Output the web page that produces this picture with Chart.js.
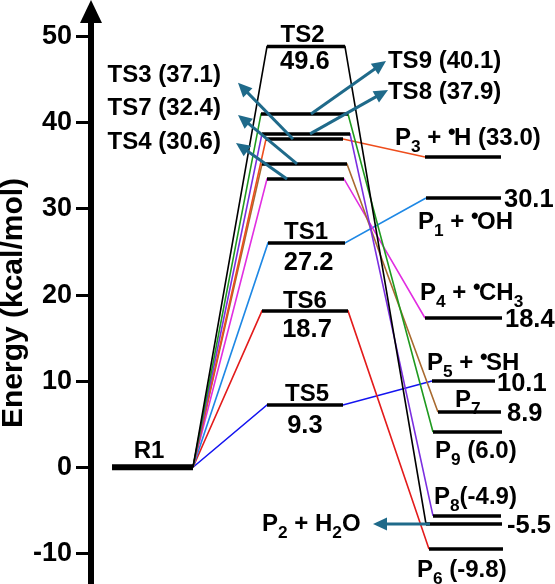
<!DOCTYPE html>
<html><head><meta charset="utf-8">
<script src="https://cdn.jsdelivr.net/npm/chart.js@4.4.1/dist/chart.umd.min.js"></script>
<style>html,body{margin:0;padding:0;background:#fff;}#wrap{width:555px;height:584px;}</style>
</head><body><div id="wrap"><canvas id="c" width="555" height="584"></canvas></div>
<script>
// ---------- data ----------
const yTicks = [-10, 0, 10, 20, 30, 40, 50];
const r1Name = 'R1';
const r1Energy = 0;
// transition states (drawn level, printed label value)
const tsNames       = ['TS2', 'TS9', 'TS8', 'TS3', 'TS7', 'TS4', 'TS1', 'TS6', 'TS5'];
const tsLabelValues = ['49.6', '40.1', '37.9', '37.1', '32.4', '30.6', '27.2', '18.7', '9.3'];
const tsLevels      = [48.86, 41.04, 38.72, 38.13, 35.23, 33.49, 26.06, 18.16, 7.24];
// products reached from each TS (same order)
const productNames       = ['P_{2} + H_{2}O', 'P_{9}', 'P_{8}', 'P_{3} + ^{•}H', 'P_{7}', 'P_{4} + ^{•}CH_{3}', 'P_{1} + ^{•}OH', 'P_{6}', 'P_{5} + ^{•}SH'];
const productLabelValues = ['-5.5', '6.0', '-4.9', '33.0', '8.9', '18.4', '30.1', '-9.8', '10.1'];
const productLevels      = [-6.59, 4.10, -5.65, 36.04, 6.42, 17.34, 31.28, -9.49, 10.02];

// ---------- layout / style (not data) ----------
const pathColors = ['#000000', '#1f9a1f', '#7b2fe0', '#ee4d1c', '#a8692e', '#e12ee1', '#1e88e5', '#e31b1b', '#1414f0'];
const r1X = [0.453, 2.198];
const tsX0 = [3.793, 3.664, 3.685, 3.772, 3.685, 3.793, 3.815, 3.685, 3.793];
const tsX1 = [5.474, 5.539, 5.582, 5.431, 5.517, 5.453, 5.474, 5.539, 5.431];
const pX0  = [7.220, 7.371, 7.371, 7.198, 7.478, 7.198, 7.220, 7.284, 7.349];
const pX1  = [8.858, 8.858, 8.836, 8.836, 8.836, 8.858, 8.836, 8.879, 8.707];
const FONT = '"Liberation Sans", Arial, sans-serif';
const ARROW = '#1f6a8a';
const NAME = 24, VAL = 25.5;

// text items: [text, x, y, align, size]
const texts = [
  [r1Name, 1.25, 2.13, 'center', NAME],
  [tsNames[0], 4.56, 50.45, 'center', NAME],
  [tsLabelValues[0], 4.61, 47.31, 'center', VAL],
  [tsNames[6], 4.634, 27.56, 'center', NAME],
  [tsLabelValues[6], 4.69, 23.98, 'center', VAL],
  [tsNames[7], 4.61, 19.54, 'center', NAME],
  [tsLabelValues[7], 4.655, 16.18, 'center', VAL],
  [tsNames[8], 4.655, 8.75, 'center', NAME],
  [tsLabelValues[8], 4.61, 5.0, 'center', VAL],
  [tsNames[3] + ' (' + tsLabelValues[3] + ')', 2.80, 45.70, 'right', NAME],
  [tsNames[4] + ' (' + tsLabelValues[4] + ')', 2.80, 41.87, 'right', NAME],
  [tsNames[5] + ' (' + tsLabelValues[5] + ')', 2.80, 37.92, 'right', NAME],
  [tsNames[1] + ' (' + tsLabelValues[1] + ')', 6.40, 47.43, 'left', NAME],
  [tsNames[2] + ' (' + tsLabelValues[2] + ')', 6.40, 43.83, 'left', NAME],
  [productNames[3] + ' (' + productLabelValues[3] + ')', 6.552, 38.48, 'left', NAME],
  [productLabelValues[6], 8.901, 31.28, 'left', VAL],
  [productNames[6], 7.047, 28.72, 'left', NAME],
  [productNames[5], 7.091, 20.47, 'left', NAME],
  [productLabelValues[5], 8.922, 17.34, 'left', VAL],
  [productNames[8], 7.241, 12.35, 'left', NAME],
  [productLabelValues[8], 8.750, 9.91, 'left', VAL],
  [productNames[4], 7.845, 8.05, 'left', NAME],
  [productLabelValues[4], 8.966, 6.42, 'left', VAL],
  [productNames[1] + ' (' + productLabelValues[1] + ')', 7.414, 2.13, 'left', NAME],
  [productNames[2] + '(' + productLabelValues[2] + ')', 7.392, -3.22, 'left', NAME],
  [productLabelValues[0], 8.966, -6.59, 'left', VAL],
  [productNames[0], 3.685, -6.36, 'left', NAME],
  [productNames[7] + ' (' + productLabelValues[7] + ')', 7.026, -11.70, 'left', NAME]
];
// arrows: [fromX, fromY, toX, toY]
const arrows = [
  [4.353, tsLevels[3], 3.168, 44.65],
  [4.440, tsLevels[4], 3.168, 40.93],
  [4.224, tsLevels[5], 3.125, 37.67],
  [4.741, tsLevels[1], 6.358, 47.19],
  [4.720, tsLevels[2], 6.401, 43.82],
  [7.306, productLevels[0], 6.078, productLevels[0]]
];

// ---------- datasets ----------
const datasets = [];
const lvl = (x0, x1, v, w) => ({ data: [{x: x0, y: v}, {x: x1, y: v}], borderColor: '#000', borderWidth: w });
datasets.push(lvl(r1X[0], r1X[1], r1Energy, 6));
tsLevels.forEach((v, i) => datasets.push(lvl(tsX0[i], tsX1[i], v, 3.5)));
productLevels.forEach((v, i) => datasets.push(lvl(pX0[i], pX1[i], v, 3.5)));
tsLevels.forEach((v, i) => datasets.push({
  data: [{x: r1X[1], y: r1Energy}, {x: tsX0[i], y: v}, {x: tsX1[i], y: v}, {x: pX0[i], y: productLevels[i]}],
  borderColor: pathColors[i], borderWidth: 1.6
}));
datasets.forEach(d => { d.pointRadius = 0; d.tension = 0; d.fill = false; d.borderCapStyle = 'butt'; });

function drawRich(ctx, str, px, py, align, size) {
  const segs = []; const re = /_\{([^}]*)\}|\^\{([^}]*)\}|([^_^]+)/g; let m;
  while ((m = re.exec(str))) {
    if (m[1] !== undefined) segs.push({t: m[1], k: 'sub'});
    else if (m[2] !== undefined) segs.push({t: m[2], k: 'sup'});
    else segs.push({t: m[3], k: 'n'});
  }
  const F = s => 'bold ' + s + 'px ' + FONT;
  let w = 0;
  segs.forEach(sg => { sg.s = sg.k === 'n' ? size : (sg.k === 'sub' ? size * 0.72 : size * 0.9); ctx.font = F(sg.s); sg.w = ctx.measureText(sg.t).width * (sg.k === 'sup' ? 0.8 : 1); w += sg.w; });
  let cx = align === 'center' ? px - w / 2 : align === 'right' ? px - w : px;
  const base = py + size * 0.358;
  ctx.textAlign = 'left'; ctx.textBaseline = 'alphabetic'; ctx.fillStyle = '#000';
  segs.forEach(sg => {
    ctx.font = F(sg.s);
    const dy = sg.k === 'sub' ? size * 0.3 : sg.k === 'sup' ? -size * 0.25 : 0;
    ctx.fillText(sg.t, cx, base + dy); cx += sg.w;
  });
}
function drawArrow(ctx, x1, y1, x2, y2) {
  const a = Math.atan2(y2 - y1, x2 - x1), L = 14, W = 6.5;
  const bx = x2 - L * Math.cos(a), by = y2 - L * Math.sin(a);
  ctx.strokeStyle = ARROW; ctx.fillStyle = ARROW; ctx.lineWidth = 3; ctx.lineCap = 'butt';
  ctx.beginPath(); ctx.moveTo(x1, y1); ctx.lineTo(bx + 1 * Math.cos(a), by + 1 * Math.sin(a)); ctx.stroke();
  ctx.beginPath(); ctx.moveTo(x2, y2);
  ctx.lineTo(bx - W * Math.sin(a), by + W * Math.cos(a));
  ctx.lineTo(bx + W * Math.sin(a), by - W * Math.cos(a));
  ctx.closePath(); ctx.fill();
}

const annot = {
  id: 'annot',
  afterDatasetsDraw(chart) {
    const {ctx, scales: {x, y}} = chart;
    ctx.save();
    arrows.forEach(a => drawArrow(ctx, x.getPixelForValue(a[0]), y.getPixelForValue(a[1]), x.getPixelForValue(a[2]), y.getPixelForValue(a[3])));
    texts.forEach(t => drawRich(ctx, t[0], x.getPixelForValue(t[1]), y.getPixelForValue(t[2]), t[3], t[4]));
    ctx.restore();
  },
  afterDraw(chart) {
    const {ctx, chartArea} = chart; const ys = chart.scales.y;
    const cx = ys.right;
    ctx.save(); ctx.fillStyle = '#000';
    ctx.beginPath(); ctx.moveTo(cx, 0); ctx.lineTo(cx - 11, chartArea.top + 1); ctx.lineTo(cx + 11, chartArea.top + 1); ctx.closePath(); ctx.fill();
    ctx.restore();
  }
};

new Chart(document.getElementById('c'), {
  type: 'line',
  data: { datasets },
  plugins: [annot],
  options: {
    responsive: false, animation: false, devicePixelRatio: 1, events: [],
    layout: { padding: { top: 22, left: 0, right: 0, bottom: 0 } },
    plugins: { legend: { display: false }, tooltip: { enabled: false } },
    scales: {
      x: { type: 'linear', min: 0, max: 10, display: false },
      y: {
        type: 'linear', min: -13.56, max: 51.72,
        afterBuildTicks: s => { s.ticks = yTicks.map(v => ({value: v})); },
        afterFit: s => { s.width = 91; s.paddingTop = 0; s.paddingBottom = 0; },
        ticks: { color: '#000', padding: 4, font: { family: FONT, size: 27, weight: 'bold' } },
        grid: { drawOnChartArea: false, drawTicks: true, tickLength: 15, tickWidth: 3, tickColor: '#000' },
        border: { display: true, width: 6, color: '#000' },
        title: { display: true, text: 'Energy (kcal/mol)', color: '#000', padding: 0, font: { family: FONT, size: 30, weight: 'bold', lineHeight: 0.9 } }
      }
    }
  }
});
</script>
</body></html>
